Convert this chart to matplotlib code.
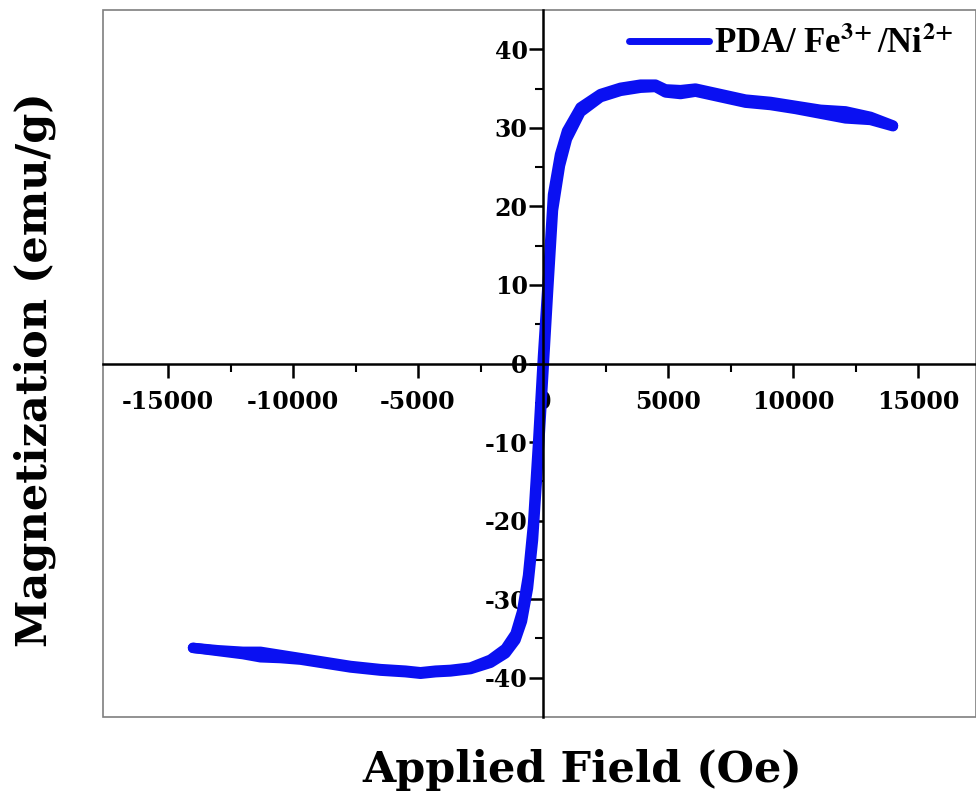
import numpy as np
import matplotlib
matplotlib.use("Agg")
import matplotlib.pyplot as plt
from matplotlib.patches import Rectangle
from matplotlib.ticker import MultipleLocator

plt.rcParams["mathtext.fontset"] = "stix"
plt.rcParams["axes.unicode_minus"] = False

# applied field (Oe) and magnetization (emu/g)
field = [-14000, -13000, -12000, -11300, -10500, -9700, -8700, -7700, -6500,
         -5500, -4900, -4300, -3700, -2900, -2100, -1500, -1100, -840, -600,
         -400, -200, 0, 200, 400, 680, 960, 1500, 2300, 3100, 3900, 4500,
         4900, 5500, 6100, 7100, 8100, 9100, 10100, 11100, 12100, 13100, 14000]
m_up = [-36.2, -36.6, -37.0, -37.4, -37.5, -37.7, -38.2, -38.7, -39.1,
        -39.3, -39.5, -39.3, -39.2, -38.9, -38.1, -36.9, -35.2, -32.8, -28.6,
        -22.5, -12.8, -2.0, 9.0, 19.5, 25.2, 28.6, 32.0, 33.9, 34.7, 35.1, 35.2,
        34.5, 34.3, 34.6, 33.9, 33.2, 32.9, 32.4, 31.8, 31.2, 31.0, 30.2]
m_down = [-36.2, -36.5, -36.7, -36.7, -37.1, -37.5, -38.0, -38.5, -38.9,
          -39.1, -39.3, -39.1, -39.0, -38.7, -37.7, -36.3, -34.4, -31.6, -27.0,
          -20.5, -10.2, 1.0, 11.0, 21.5, 26.6, 29.6, 32.6, 34.3, 35.1, 35.5, 35.5,
          34.9, 34.8, 35.0, 34.3, 33.6, 33.3, 32.8, 32.3, 32.1, 31.4, 30.3]

BLUE = "#0a10f2"

fig = plt.figure(figsize=(9.76, 7.95), dpi=100)
ax = fig.add_axes([103 / 976, 1 - 717 / 795, 1 - 103 / 976, 707 / 795])

ax.plot(field, m_up, color=BLUE, lw=7.5, solid_capstyle="round",
        solid_joinstyle="round", label="PDA/ Fe$^{\\mathbf{3\\!+}}$/Ni$^{\\mathbf{2\\!+}}$")
ax.plot(field[::-1], m_down[::-1], color=BLUE, lw=7.5,
        solid_capstyle="round", solid_joinstyle="round")

ax.set_xlim(-17600, 17320)
ax.set_ylim(-45, 45)

# centred axes through zero, plus a thin grey frame
ax.spines["left"].set_position(("data", 0))
ax.spines["bottom"].set_position(("data", 0))
ax.spines["top"].set_visible(False)
ax.spines["right"].set_visible(False)
for s in ["left", "bottom"]:
    ax.spines[s].set_linewidth(1.8)
ax.add_patch(Rectangle((0, 0), 1, 1, transform=ax.transAxes, fill=False,
                       ec="#7f7f7f", lw=1.2, clip_on=False, zorder=0))

ax.xaxis.set_major_locator(MultipleLocator(5000))
ax.set_xticks(np.arange(-15000, 15001, 2500), minor=True)
ax.yaxis.set_major_locator(MultipleLocator(10))
ax.set_yticks(np.arange(-35, 36, 5), minor=True)
ax.tick_params(which="major", direction="out", length=10, width=1.8)
ax.tick_params(which="minor", direction="out", length=6, width=1.5)
ax.tick_params(axis="x", which="major", pad=9)
ax.tick_params(axis="y", which="major", pad=1)
for lab in ax.get_xticklabels() + ax.get_yticklabels():
    lab.set_fontfamily("DejaVu Serif")
    lab.set_fontweight("bold")
    lab.set_fontsize(17)

fig.text(0.036, 0.535, "Magnetization (emu/g)", rotation=90, ha="center",
         va="center", family="DejaVu Serif", weight="bold", fontsize=31)
fig.text(0.597, 0.031, "Applied Field (Oe)", ha="center", va="center",
         family="DejaVu Serif", weight="bold", fontsize=31)

leg = ax.legend(loc="upper left", bbox_to_anchor=(0.603, 0.976), frameon=False,
                borderpad=0, borderaxespad=0, handlelength=2.3, handletextpad=0.15,
                prop={"family": "Liberation Serif", "weight": "bold", "size": 25})
leg.get_lines()[0].set_linewidth(5)

fig.savefig("out.png", dpi=100)
